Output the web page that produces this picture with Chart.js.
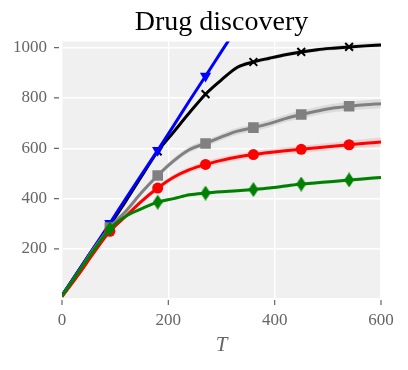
<!DOCTYPE html>
<html>
<head>
<meta charset="utf-8">
<script src="https://cdn.jsdelivr.net/npm/chart.js@4"></script>
<style>
  html, body { margin: 0; padding: 0; background: #fff; }
  #wrap { width: 408px; height: 370px; }
</style>
</head>
<body>
<div id="wrap"><canvas id="chart" width="408" height="370"></canvas></div>
<script>
// values
const xs = [0, 30, 60, 90, 120, 150, 180, 210, 240, 270, 300, 330, 360, 390, 420, 450, 480, 510, 540, 570, 600];
const blackY = [15, 110, 205, 295, 390, 490, 588, 665, 742, 815, 872, 922, 943, 958, 972, 983, 992, 998, 1003, 1007, 1010];
const blueY  = [15, 110, 205, 302, 400, 497, 592, 690, 790, 887, 985, 1082];
const grayY  = [12, 105, 200, 285, 350, 425, 492, 550, 595, 619, 645, 668, 682, 698, 718, 734, 748, 760, 767, 773, 777];
const redY   = [10, 95, 185, 270, 330, 390, 442, 485, 515, 536, 552, 565, 575, 583, 590, 596, 602, 608, 614, 620, 625];
const greenY = [12, 105, 195, 280, 330, 360, 386, 400, 415, 422, 427, 431, 436, 442, 450, 458, 463, 468, 474, 479, 484];
// half-width of the shaded bands
const blackSpread = [0, 2, 3, 4, 5, 6, 6, 7, 7, 8, 8, 8, 8, 8, 8, 8, 8, 8, 8, 8, 8];
const graySpread  = [0, 3, 5, 6, 8, 9, 10, 11, 12, 13, 13, 14, 14, 15, 15, 16, 16, 17, 17, 18, 18];
const redSpread   = [0, 3, 5, 6, 8, 9, 10, 11, 12, 12, 13, 13, 13, 14, 14, 14, 15, 15, 16, 17, 18];
const greenSpread = [0, 2, 3, 4, 5, 5, 6, 6, 6, 6, 6, 6, 6, 6, 7, 7, 7, 7, 7, 7, 7];
const markerTs = [90, 180, 270, 360, 450, 540];
const xTicks = [0, 200, 400, 600];
const yTicks = [200, 400, 600, 800, 1000];

const FONT = "'Liberation Serif', 'DejaVu Serif', serif";
const TICK_COLOR = '#666';

function pts(vals) {
  return vals.map((v, i) => ({ x: xs[i], y: v }));
}
function band(vals, spread, sign) {
  return vals.map((v, i) => ({ x: xs[i], y: v + sign * spread[i] }));
}
function markerRadius(r) {
  return ctx => markerTs.includes(xs[ctx.dataIndex]) ? r : 0;
}

// thin diamond like matplotlib's 'd'
function diamond(color, w, h) {
  const c = document.createElement('canvas');
  c.width = w; c.height = h;
  const g = c.getContext('2d');
  g.fillStyle = color;
  g.beginPath();
  g.moveTo(w / 2, 0);
  g.lineTo(w, h / 2);
  g.lineTo(w / 2, h);
  g.lineTo(0, h / 2);
  g.closePath();
  g.fill();
  return c;
}
const greenDiamond = diamond('#008000', 10, 15);

function series(label, vals, color, extra) {
  return Object.assign({
    label: label,
    data: pts(vals),
    borderColor: color,
    backgroundColor: color,
    borderWidth: 3,
    cubicInterpolationMode: 'monotone',
    pointBorderWidth: 0,
    pointHoverRadius: 0,
    clip: 0,
    fill: false
  }, extra);
}
function bandPair(vals, spread, color) {
  return [
    { data: band(vals, spread, 1), borderWidth: 0, pointRadius: 0, fill: '+1',
      backgroundColor: color, cubicInterpolationMode: 'monotone', order: 10, clip: 0 },
    { data: band(vals, spread, -1), borderWidth: 0, pointRadius: 0, fill: false,
      backgroundColor: color, cubicInterpolationMode: 'monotone', order: 10, clip: 0 }
  ];
}

const datasets = [
  ...bandPair(blackY, blackSpread, 'rgba(0,0,0,0.12)'),
  ...bandPair(grayY, graySpread, 'rgba(128,128,128,0.18)'),
  ...bandPair(redY, redSpread, 'rgba(255,0,0,0.12)'),
  ...bandPair(greenY, greenSpread, 'rgba(0,128,0,0.12)'),
  series('black', blackY, '#000000', { order: 4, pointStyle: 'crossRot', pointRadius: markerRadius(5.5), pointBorderWidth: 2 }),
  series('blue', blueY, '#0000ff', { order: 3, pointStyle: 'triangle', pointRotation: 180, pointRadius: markerRadius(6.5) }),
  series('gray', grayY, '#808080', { order: 2, pointStyle: 'rect', pointRadius: markerRadius(7.5) }),
  series('red', redY, '#ff0000', { order: 1, pointStyle: 'circle', pointRadius: markerRadius(5.5) }),
  series('green', greenY, '#008000', { order: 0, pointStyle: greenDiamond, pointRadius: markerRadius(6) })
];

// plot background + outside tick marks
const areaStyle = {
  id: 'areaStyle',
  beforeDraw(chart) {
    const a = chart.chartArea, g = chart.ctx;
    g.save();
    g.fillStyle = '#f0f0f0';
    g.fillRect(a.left, a.top, a.right - a.left, a.bottom - a.top);
    g.restore();
  },
  afterDraw(chart) {
    const a = chart.chartArea, g = chart.ctx;
    g.save();
    g.strokeStyle = TICK_COLOR;
    g.lineWidth = 1.2;
    g.beginPath();
    yTicks.forEach(v => {
      const y = chart.scales.y.getPixelForValue(v);
      g.moveTo(a.left - 8, y); g.lineTo(a.left - 3, y);
    });
    xTicks.forEach(v => {
      const x = chart.scales.x.getPixelForValue(v);
      g.moveTo(x, a.bottom + 2); g.lineTo(x, a.bottom + 7);
    });
    g.stroke();
    g.restore();
  }
};

new Chart(document.getElementById('chart'), {
  type: 'line',
  data: { datasets: datasets },
  options: {
    responsive: false,
    animation: false,
    events: [],
    layout: { padding: { left: 0, right: 27, top: 0, bottom: 0 } },
    plugins: {
      legend: { display: false },
      tooltip: { enabled: false },
      title: {
        display: true,
        fullSize: false, // centre over the plot area only
        text: 'Drug discovery',
        color: '#000',
        font: { family: FONT, size: 28, weight: 'normal' },
        padding: { top: 6, bottom: 2 }
      }
    },
    scales: {
      x: {
        type: 'linear',
        min: 0, max: 600,
        afterBuildTicks: s => { s.ticks = xTicks.map(v => ({ value: v })); },
        afterFit: s => { s.height = 72; },
        grid: { color: '#ffffff', lineWidth: 1.4, drawTicks: false },
        border: { display: false },
        ticks: { color: TICK_COLOR, padding: 12, maxRotation: 0, font: { family: FONT, size: 17 },
                 callback: v => String(v) },
        title: {
          display: true, text: 'T', color: TICK_COLOR,
          font: { family: FONT, size: 21, style: 'italic' },
          padding: { top: 0, bottom: 12 }
        }
      },
      y: {
        type: 'linear',
        min: 5, max: 1024,
        afterBuildTicks: s => { s.ticks = yTicks.map(v => ({ value: v })); },
        afterFit: s => { s.width = 62; },
        grid: { color: '#ffffff', lineWidth: 1.4, drawTicks: false },
        border: { display: false },
        ticks: { color: TICK_COLOR, padding: 15, font: { family: FONT, size: 17 },
                 callback: v => String(v) }
      }
    }
  },
  plugins: [areaStyle]
});
</script>
</body>
</html>
